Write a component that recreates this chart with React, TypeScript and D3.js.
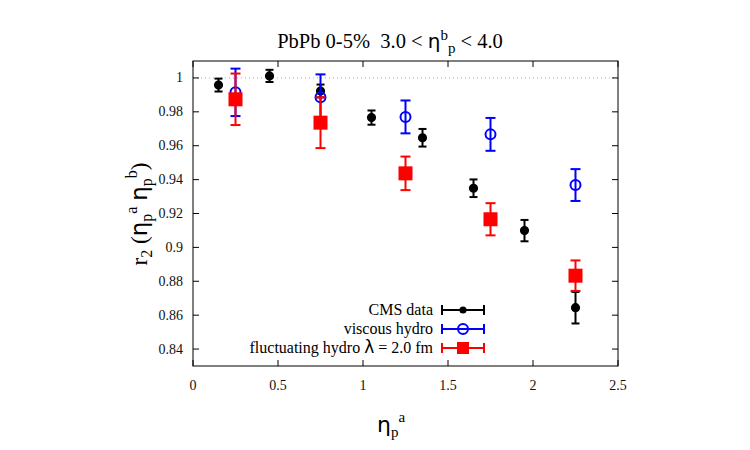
import * as d3 from "d3";

// x positions (eta_p^a) and r2 values
const cmsX = [0.15, 0.45, 0.75, 1.05, 1.35, 1.65, 1.95, 2.25];
const cmsY = [0.9958, 1.0012, 0.9923, 0.9766, 0.9647, 0.9349, 0.9099, 0.8644];
const cmsErr = [0.0038, 0.0036, 0.0038, 0.0042, 0.0052, 0.0052, 0.0063, 0.0093];

const hydroX = [0.25, 0.75, 1.25, 1.75, 2.25];
const viscousY = [0.9915, 0.9886, 0.977, 0.9667, 0.9368];
const viscousErr = [0.014, 0.0135, 0.0097, 0.0097, 0.0094];
const flucY = [0.9874, 0.9736, 0.9437, 0.9166, 0.8833];
const flucErr = [0.0152, 0.015, 0.0099, 0.0095, 0.009];

const xTicks = [0, 0.5, 1, 1.5, 2, 2.5];
const yTicks = [0.84, 0.86, 0.88, 0.9, 0.92, 0.94, 0.96, 0.98, 1];

const W = 750;
const H = 450;
const margin = { left: 193, right: 132, top: 61, bottom: 84 };

const serif = "Liberation Serif, DejaVu Serif, serif";
const sans = "DejaVu Sans, sans-serif";

type Pt = { x: number; y: number; e: number };
const zip = (xs: number[], ys: number[], es: number[]): Pt[] =>
  xs.map((x, i) => ({ x, y: ys[i], e: es[i] }));

const series = [
  { name: "CMS data", color: "#000000", marker: "dot", cap: 4, pts: zip(cmsX, cmsY, cmsErr) },
  { name: "viscous hydro", color: "#0000ff", marker: "ring", cap: 5, pts: zip(hydroX, viscousY, viscousErr) },
  { name: "fluctuating", color: "#ff0000", marker: "square", cap: 5, pts: zip(hydroX, flucY, flucErr) },
];

const Marker = ({ kind, cx, cy, color }: { kind: string; cx: number; cy: number; color: string }) => {
  if (kind === "dot") return <circle cx={cx} cy={cy} r={3.6} fill={color} />;
  if (kind === "ring")
    return <circle cx={cx} cy={cy} r={5} fill="none" stroke={color} strokeWidth={2} />;
  return <rect x={cx - 6} y={cy - 6} width={12} height={12} fill={color} />;
};

export default function App() {
  const x0 = margin.left;
  const x1 = W - margin.right;
  const y0 = H - margin.bottom;
  const y1 = margin.top;

  const x = d3.scaleLinear().domain([0, 2.5]).range([x0, x1]);
  const y = d3.scaleLinear().domain([0.83, 1.01]).range([y0, y1]);

  const tick = 6;
  const legendRows = [310, 329, 348];
  const serifStyle = { fontFamily: serif };
  const sansStyle = { fontFamily: sans };

  return (
    <svg width={W} height={H} style={{ position: "absolute", left: 0, top: 0 }}>
      <rect width={W} height={H} fill="white" />

      {/* dotted reference at r2 = 1 */}
      <line x1={x0} x2={x1} y1={y(1)} y2={y(1)} stroke="#aaaaaa" strokeWidth={1} strokeDasharray="1,3" />

      {/* ticks, mirrored on top and right */}
      {xTicks.map((t) => (
        <g key={"x" + t}>
          <line x1={x(t)} x2={x(t)} y1={y0} y2={y0 - tick} stroke="#000" />
          <line x1={x(t)} x2={x(t)} y1={y1} y2={y1 + tick} stroke="#000" />
          <text x={x(t)} y={y0 + 24} textAnchor="middle" style={serifStyle} fontSize={14} fill="#111">
            {d3.format("")(t)}
          </text>
        </g>
      ))}
      {yTicks.map((t) => (
        <g key={"y" + t}>
          <line x1={x0} x2={x0 + tick} y1={y(t)} y2={y(t)} stroke="#000" />
          <line x1={x1} x2={x1 - tick} y1={y(t)} y2={y(t)} stroke="#000" />
          <text x={x0 - 10} y={y(t) + 4.5} textAnchor="end" style={serifStyle} fontSize={14} fill="#111">
            {d3.format("")(+t.toFixed(2))}
          </text>
        </g>
      ))}

      <rect x={x0} y={y1} width={x1 - x0} height={y0 - y1} fill="none" stroke="#000" strokeWidth={1} />

      {/* error bars and markers */}
      {series.map((s) => (
        <g key={s.name}>
          {s.pts.map((p, i) => {
            const cx = x(p.x);
            const top = y(p.y + p.e);
            const bot = y(p.y - p.e);
            return (
              <g key={i} stroke={s.color} strokeWidth={2}>
                <line x1={cx} x2={cx} y1={top} y2={bot} />
                <line x1={cx - s.cap} x2={cx + s.cap} y1={top} y2={top} />
                <line x1={cx - s.cap} x2={cx + s.cap} y1={bot} y2={bot} />
                <Marker kind={s.marker} cx={cx} cy={y(p.y)} color={s.color} />
              </g>
            );
          })}
        </g>
      ))}

      {/* legend */}
      {series.map((s, i) => {
        const ly = legendRows[i];
        return (
          <g key={"leg" + i}>
            <text x={433} y={ly + 5} textAnchor="end" style={serifStyle} fontSize={16} fill="#000">
              {i === 2 ? (
                <>
                  fluctuating hydro <tspan style={sansStyle} fontSize={17}>λ</tspan> = 2.0 fm
                </>
              ) : (
                s.name
              )}
            </text>
            <g stroke={s.color} strokeWidth={2}>
              <line x1={442} x2={484} y1={ly} y2={ly} />
              <line x1={442} x2={442} y1={ly - 5} y2={ly + 5} />
              <line x1={484} x2={484} y1={ly - 5} y2={ly + 5} />
            </g>
            <Marker kind={s.marker} cx={463} cy={ly} color={s.color} />
          </g>
        );
      })}

      {/* title */}
      <text x={390} y={48} textAnchor="middle" style={serifStyle} fontSize={20.5} fill="#000">
        PbPb 0-5%{"\u00a0\u00a0"}3.0 &lt; <tspan style={sansStyle} fontSize={20}>η</tspan>
        <tspan fontSize={15} dy={-8}>b</tspan>
        <tspan fontSize={15} dy={13}>p</tspan>
        <tspan dy={-5}> &lt; 4.0</tspan>
      </text>

      {/* x label */}
      <text x={391} y={432} textAnchor="middle" style={sansStyle} fontSize={22} fill="#000">
        η
        <tspan style={serifStyle} fontSize={15} dy={5}>p</tspan>
        <tspan style={serifStyle} fontSize={15} dy={-15}>a</tspan>
      </text>

      {/* y label */}
      <text
        transform={`translate(147, 214) rotate(-90)`}
        textAnchor="middle"
        style={serifStyle}
        fontSize={23}
        fill="#000"
      >
        <tspan>r</tspan>
        <tspan fontSize={16} dy={5}>2</tspan>
        <tspan dy={-5}>{"\u00a0("}</tspan>
        <tspan style={sansStyle}>η</tspan>
        <tspan fontSize={16} dy={5}>p</tspan>
        <tspan fontSize={16} dy={-15}>a</tspan>
        <tspan dy={10}>{"\u00a0"}</tspan>
        <tspan style={sansStyle}>η</tspan>
        <tspan fontSize={16} dy={5}>p</tspan>
        <tspan fontSize={16} dy={-15}>b</tspan>
        <tspan dy={10}>)</tspan>
      </text>
    </svg>
  );
}
